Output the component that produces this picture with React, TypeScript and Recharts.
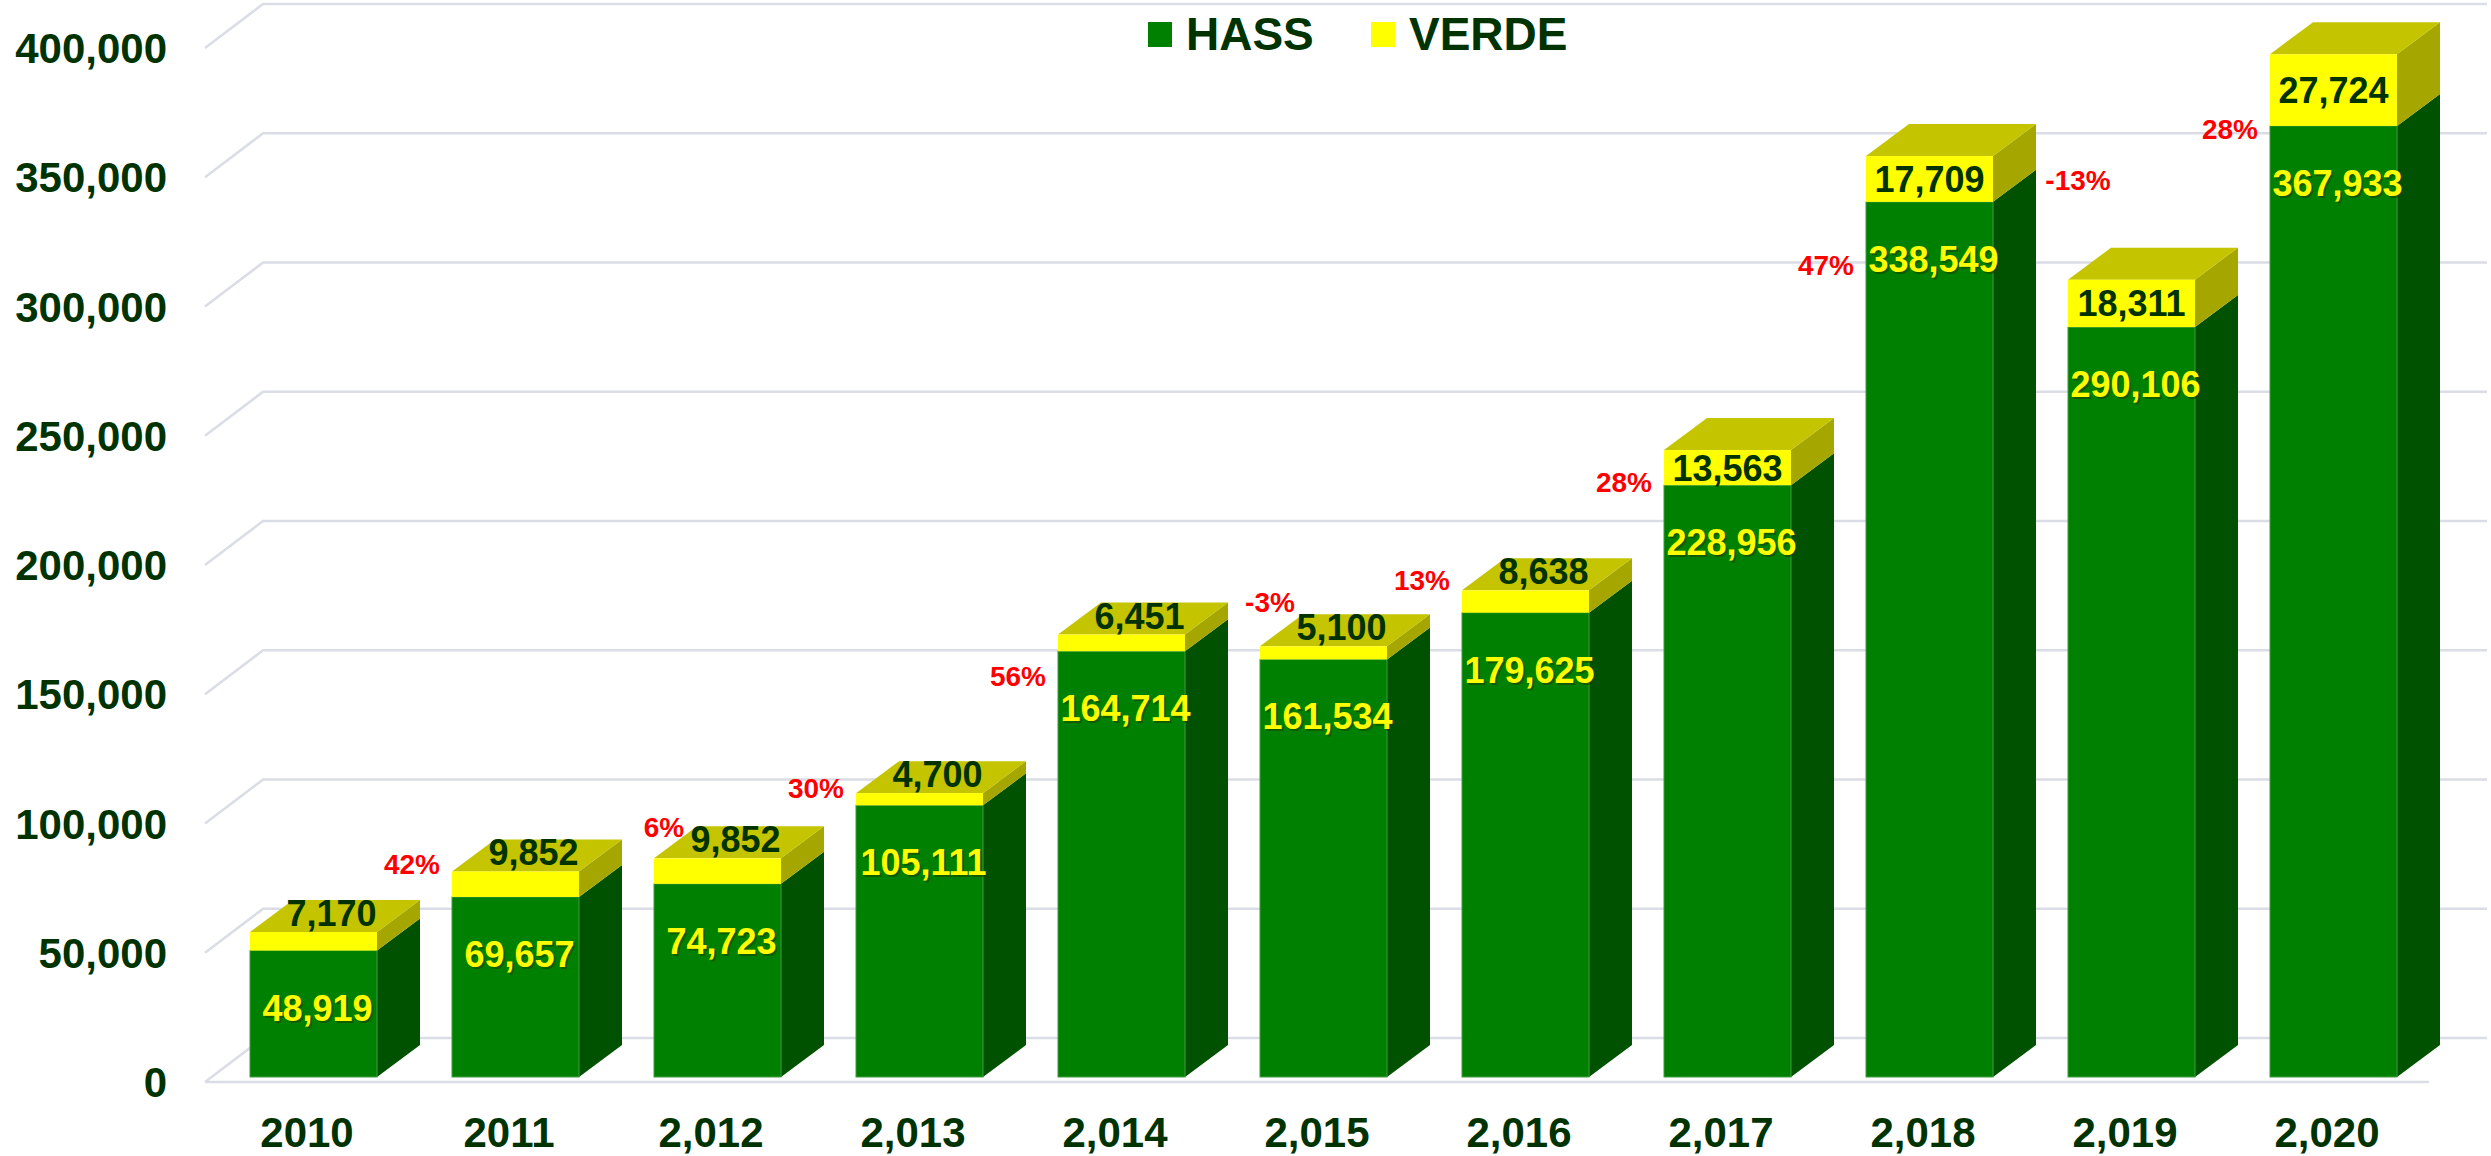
import React from 'react';
import { BarChart, Bar, XAxis, YAxis, CartesianGrid, Legend, LabelList } from 'recharts';

// ---- data ----
const years = ['2010', '2011', '2,012', '2,013', '2,014', '2,015', '2,016', '2,017', '2,018', '2,019', '2,020'];
const hass = [48919, 69657, 74723, 105111, 164714, 161534, 179625, 228956, 338549, 290106, 367933];
const verde = [7170, 9852, 9852, 4700, 6451, 5100, 8638, 13563, 17709, 18311, 27724];
const growth = ['', '42%', '6%', '30%', '56%', '-3%', '13%', '28%', '47%', '-13%', '28%'];
const yTicks = [0, 50000, 100000, 150000, 200000, 250000, 300000, 350000, 400000];

const data = years.map((year, i) => ({ year, HASS: hass[i], VERDE: verde[i] }));
const totals = hass.map((h, i) => h + verde[i]);

// ---- layout / style ----
const W = 2491;
const H = 1156;
const X_AXIS_H = 79;
const Y_AXIS_W = 212;
const PLOT_BOTTOM = H - X_AXIS_H;
const FONT = '"Liberation Sans", Arial, Helvetica, sans-serif';
const DARK = '#003300';
const GRID = '#DADDE5';
const DX = 43;
const DY = 32;

const fmt = (v: number) => v.toLocaleString('en-US');

const gridLine = (props: any) => {
  const { x1, x2, y1, index } = props;
  const y = y1;
  const isZero = Math.abs(y - PLOT_BOTTOM) < 1;
  return (
    <g key={`grid-${index}-${y}`}>
      <path
        d={`M${x1 - 7},${y + 5} L${x1 + 51},${y - 39} L${x2 + 53},${y - 39}`}
        stroke={GRID}
        strokeWidth={2.5}
        fill="none"
      />
      {isZero && (
        <line x1={x1 - 7} y1={y + 5} x2={x2 - 5} y2={y + 5} stroke={GRID} strokeWidth={2.5} />
      )}
    </g>
  );
};

const HassShape = (props: any) => {
  const { x, y, width: w, height: h } = props;
  return (
    <g>
      <path d={`M${x + w},${y} L${x + w + DX},${y - DY} L${x + w + DX},${y + h - DY} L${x + w},${y + h} Z`} fill="#005200" />
      <rect x={x} y={y} width={w} height={h} fill="#008000" stroke="#3f9c3f" strokeWidth={1} />
    </g>
  );
};

const VerdeShape = (props: any) => {
  const { x, y, width: w, height: h } = props;
  return (
    <g>
      <path d={`M${x + w},${y} L${x + w + DX},${y - DY} L${x + w + DX},${y + h - DY} L${x + w},${y + h} Z`} fill="#A6A600" />
      <path d={`M${x},${y} L${x + DX},${y - DY} L${x + w + DX},${y - DY} L${x + w},${y} Z`} fill="#C4C400" />
      <rect x={x} y={y} width={w} height={h} fill="#FFFF00" />
    </g>
  );
};

const geom = (props: any) => {
  const vb = props.viewBox || {};
  return {
    x: Number(props.x ?? vb.x),
    y: Number(props.y ?? vb.y),
    w: Number(props.width ?? vb.width),
    h: Number(props.height ?? vb.height),
  };
};

const HassLabel = (props: any) => {
  const { x, y, w, h } = geom(props);
  let index = props.index;
  if (index == null) index = hass.indexOf(Number(props.value));
  const value = hass[index];
  const cx = x + w / 2 + 4;
  const cy = y + 57;
  const items: any[] = [];
  items.push(
    <text key="sh" x={cx + 2} y={cy + 13 + 2} textAnchor="middle" fontFamily={FONT} fontWeight="bold" fontSize={36} fill="#1d3d00" opacity={0.55}>
      {fmt(value)}
    </text>
  );
  items.push(
    <text key="v" x={cx} y={cy + 13} textAnchor="middle" fontFamily={FONT} fontWeight="bold" fontSize={36} fill="#FFFF00">
      {fmt(value)}
    </text>
  );
  if (index > 0 && growth[index]) {
    const ppu = h / value;
    const base = y + h;
    const curTop = base - totals[index] * ppu;
    const prevTop = base - totals[index - 1] * ppu;
    const ly = (curTop + prevTop) / 2 - 38;
    const lx = ly < curTop - 20 ? x + 10 : x - 40;
    items.push(
      <text key="g" x={lx} y={ly + 10} textAnchor="middle" fontFamily={FONT} fontWeight="bold" fontSize={28} fill="#FF0000">
        {growth[index]}
      </text>
    );
  }
  return <g>{items}</g>;
};

const VerdeLabel = (props: any) => {
  const { x, y, w, h } = geom(props);
  let index = props.index;
  if (index == null) index = verde.indexOf(Number(props.value));
  const value = verde[index];
  const inside = h >= 30;
  const cx = inside ? x + w / 2 : x + w / 2 + 18;
  const cy = inside ? y + h / 2 : y - 19;
  return (
    <text x={cx} y={cy + 13} textAnchor="middle" fontFamily={FONT} fontWeight="bold" fontSize={36} fill={DARK}>
      {fmt(value)}
    </text>
  );
};

const YTick = (props: any) => {
  const { x, y, payload } = props;
  return (
    <text x={x - 45} y={y + 5 + 15} textAnchor="end" fontFamily={FONT} fontWeight="bold" fontSize={42} fill={DARK}>
      {fmt(payload.value)}
    </text>
  );
};

const XTick = (props: any) => {
  const { x, y, payload } = props;
  return (
    <text x={x - 6} y={y + 70} textAnchor="middle" fontFamily={FONT} fontWeight="bold" fontSize={42} fill={DARK}>
      {payload.value}
    </text>
  );
};

const LegendContent = (props: any) => {
  const payload = props.payload || [];
  return (
    <svg width={480} height={64} style={{ display: 'block', overflow: 'visible' }}>
      {payload.map((p: any, i: number) => (
        <g key={p.value} transform={`translate(${i * 223},0)`}>
          <rect x={8} y={22} width={24} height={25} fill={p.color} />
          <text x={46} y={50} fontFamily={FONT} fontWeight="bold" fontSize={46} fill={DARK}>
            {p.value}
          </text>
        </g>
      ))}
    </svg>
  );
};

export default function App() {
  return (
    <div style={{ position: 'absolute', left: 0, top: 0, width: W, height: H, background: '#fff', overflow: 'hidden' }}>
      <BarChart
        width={W}
        height={H}
        data={data}
        margin={{ top: 43, right: 57, bottom: 0, left: 0 }}
      >
        <CartesianGrid vertical={false} horizontal={gridLine} />
        <XAxis
          dataKey="year"
          height={X_AXIS_H}
          axisLine={false}
          tickLine={false}
          tickSize={0}
          tickMargin={0}
          tick={<XTick />}
          interval={0}
        />
        <YAxis
          width={Y_AXIS_W}
          domain={[0, 400000]}
          ticks={yTicks}
          axisLine={false}
          tickLine={false}
          tickSize={0}
          tickMargin={0}
          tick={<YTick />}
          interval={0}
        />
        <Legend
          layout="horizontal"
          verticalAlign="middle"
          align="center"
          wrapperStyle={{ left: 1140, top: 0, width: 480, height: 64 }}
          content={<LegendContent />}
        />
        <Bar dataKey="HASS" name="HASS" stackId="a" fill="#008000" barSize={127} shape={<HassShape />} isAnimationActive={false}>
          <LabelList dataKey="HASS" content={<HassLabel />} />
        </Bar>
        <Bar dataKey="VERDE" name="VERDE" stackId="a" fill="#FFFF00" barSize={127} shape={<VerdeShape />} isAnimationActive={false}>
          <LabelList dataKey="VERDE" content={<VerdeLabel />} />
        </Bar>
      </BarChart>
    </div>
  );
}
